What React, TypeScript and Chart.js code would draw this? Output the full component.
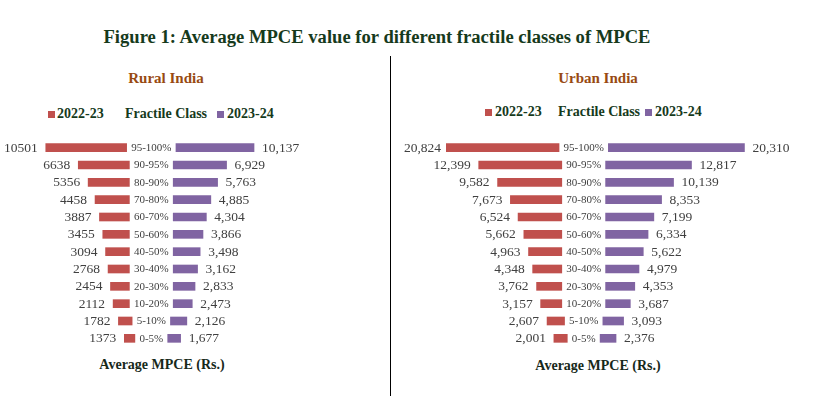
import React, { useEffect, useRef } from "react";
import { Chart, registerables } from "chart.js";

Chart.register(...registerables);

const fractileClasses = ["95-100%", "90-95%", "80-90%", "70-80%", "60-70%", "50-60%", "40-50%", "30-40%", "20-30%", "10-20%", "5-10%", "0-5%"];
const rural2223 = [10501, 6638, 5356, 4458, 3887, 3455, 3094, 2768, 2454, 2112, 1782, 1373];
const rural2324 = [10137, 6929, 5763, 4885, 4304, 3866, 3498, 3162, 2833, 2473, 2126, 1677];
const urban2223 = [20824, 12399, 9582, 7673, 6524, 5662, 4963, 4348, 3762, 3157, 2607, 2001];
const urban2324 = [20310, 12817, 10139, 8353, 7199, 6334, 5622, 4979, 4353, 3687, 3093, 2376];
const seriesNames = ["2022-23", "2023-24"];

const RED = "#C0504D";
const PURPLE = "#8064A2";
const FONT = "'Liberation Serif', 'Times New Roman', serif";
const TEXT_GREEN = "#163a1c";

const plain = (v: number) => String(v);
const comma = (v: number) => v.toLocaleString("en-US");

type PanelProps = {
  left: number;
  top: number;
  width: number;
  height: number;
  padLeft: number;
  centerX: number;
  ppu: number;
  red: number[];
  purple: number[];
  redFmt: (v: number) => string;
  purpleFmt: (v: number) => string;
};

function Panel(p: PanelProps) {
  const ref = useRef<HTMLCanvasElement | null>(null);
  useEffect(() => {
    const canvas = ref.current;
    if (!canvas) return;
    const mctx = document.createElement("canvas").getContext("2d")!;
    mctx.font = `11px ${FONT}`;
    const offs = fractileClasses.map((c) => (mctx.measureText(c).width / 2 + 4.5) / p.ppu);
    const areaW = p.width - p.padLeft;
    const cIn = p.centerX - p.left - p.padLeft;
    const min = -cIn / p.ppu;
    const max = (areaW - cIn) / p.ppu;

    const labelPlugin = {
      id: "valueLabels",
      afterDatasetsDraw(chart: any) {
        const ctx = chart.ctx;
        const area = chart.chartArea;
        const xs = chart.scales.x;
        const zero = xs.getPixelForValue(0);
        ctx.save();
        ctx.textBaseline = "middle";
        const m0 = chart.getDatasetMeta(0);
        const m1 = chart.getDatasetMeta(1);
        fractileClasses.forEach((c, i) => {
          const y = m0.data[i].y;
          ctx.fillStyle = "#404040";
          ctx.font = `11px ${FONT}`;
          ctx.textAlign = "center";
          ctx.fillText(c, zero, y + 0.5);
          ctx.font = `13.5px ${FONT}`;
          const el0 = m0.data[i];
          const l = Math.min(el0.x, el0.base);
          ctx.textAlign = "right";
          if (l < area.left) ctx.fillText(p.redFmt(p.red[i]), area.left - 5, y + 0.5);
          else ctx.fillText(p.redFmt(p.red[i]), l - 8, y + 0.5);
          const el1 = m1.data[i];
          const r = Math.max(el1.x, el1.base);
          ctx.textAlign = "left";
          ctx.fillText(p.purpleFmt(p.purple[i]), r + 8, y + 0.5);
        });
        ctx.restore();
      },
    };

    const chart = new Chart(canvas, {
      type: "bar",
      data: {
        labels: fractileClasses,
        datasets: [
          {
            label: seriesNames[0],
            data: p.red.map((v, i) => [-(offs[i] + v), -offs[i]]) as any,
            backgroundColor: RED,
            barThickness: 8,
            borderWidth: 0,
            clip: 0 as any,
            grouped: false,
          } as any,
          {
            label: seriesNames[1],
            data: p.purple.map((v, i) => [offs[i], offs[i] + v]) as any,
            backgroundColor: PURPLE,
            barThickness: 8,
            borderWidth: 0,
            clip: 0 as any,
            grouped: false,
          } as any,
        ],
      },
      options: {
        indexAxis: "y",
        animation: false,
        responsive: false,
        devicePixelRatio: 1,
        layout: { padding: { left: p.padLeft, right: 0, top: 0, bottom: 0 } },
        plugins: { legend: { display: false }, tooltip: { enabled: false }, title: { display: false } },
        scales: {
          x: { type: "linear", min, max, display: false, grid: { display: false } },
          y: { type: "category", display: false, grid: { display: false } },
        },
      },
      plugins: [labelPlugin],
    });
    return () => chart.destroy();
  }, []);
  return (
    <canvas
      ref={ref}
      width={p.width}
      height={p.height}
      style={{ position: "absolute", left: p.left, top: p.top, width: p.width, height: p.height }}
    />
  );
}

function CText(props: { x: number; y: number; size: number; color: string; bold?: boolean; children: React.ReactNode }) {
  const h = props.size * 1.6;
  return (
    <div
      style={{
        position: "absolute",
        left: props.x - 400,
        top: props.y - h / 2,
        width: 800,
        height: h,
        lineHeight: `${h}px`,
        textAlign: "center",
        whiteSpace: "nowrap",
        fontFamily: FONT,
        fontSize: props.size,
        fontWeight: props.bold ? "bold" : "normal",
        color: props.color,
      }}
    >
      {props.children}
    </div>
  );
}

function LText(props: { x: number; y: number; size: number; color: string; children: React.ReactNode }) {
  const h = props.size * 1.6;
  return (
    <div
      style={{
        position: "absolute",
        left: props.x,
        top: props.y - h / 2,
        height: h,
        lineHeight: `${h}px`,
        whiteSpace: "nowrap",
        fontFamily: FONT,
        fontSize: props.size,
        fontWeight: "bold",
        color: props.color,
      }}
    >
      {props.children}
    </div>
  );
}

function Swatch(props: { x: number; y: number; color: string }) {
  return <div style={{ position: "absolute", left: props.x, top: props.y - 3.5, width: 7, height: 7, background: props.color }} />;
}

function Legend(props: { y: number; xs: number[] }) {
  const [s1, t1, fc, s2, t2] = props.xs;
  return (
    <>
      <Swatch x={s1} y={props.y} color={RED} />
      <LText x={t1} y={props.y} size={14} color={TEXT_GREEN}>{seriesNames[0]}</LText>
      <LText x={fc} y={props.y} size={14} color={TEXT_GREEN}>Fractile Class</LText>
      <Swatch x={s2} y={props.y} color={PURPLE} />
      <LText x={t2} y={props.y} size={14} color={TEXT_GREEN}>{seriesNames[1]}</LText>
    </>
  );
}

export default function App() {
  return (
    <div style={{ position: "fixed", left: 0, top: 0, width: 816, height: 396, background: "#fff", overflow: "hidden" }}>
      <CText x={377} y={37} size={18.6} bold color={TEXT_GREEN}>
        Figure 1: Average MPCE value for different fractile classes of MPCE
      </CText>
      <div style={{ position: "absolute", left: 390, top: 56, width: 1, height: 340, background: "#000" }} />

      <CText x={166} y={78} size={15} bold color="#984a12">Rural India</CText>
      <CText x={598} y={78} size={15} bold color="#984a12">Urban India</CText>

      <Legend y={114} xs={[48, 57, 125, 217, 227]} />
      <Legend y={112} xs={[485, 495, 558, 645, 655]} />

      <Panel left={0} top={139} width={310} height={208} padLeft={0} centerX={151.3} ppu={0.0077}
        red={rural2223} purple={rural2324} redFmt={plain} purpleFmt={comma} />
      <Panel left={400} top={139} width={400} height={208} padLeft={46} centerX={583.7} ppu={0.0067}
        red={urban2223} purple={urban2324} redFmt={comma} purpleFmt={comma} />

      <CText x={162} y={365} size={14} bold color="#17291a">Average MPCE (Rs.)</CText>
      <CText x={598} y={366} size={14} bold color="#17291a">Average MPCE (Rs.)</CText>
    </div>
  );
}
